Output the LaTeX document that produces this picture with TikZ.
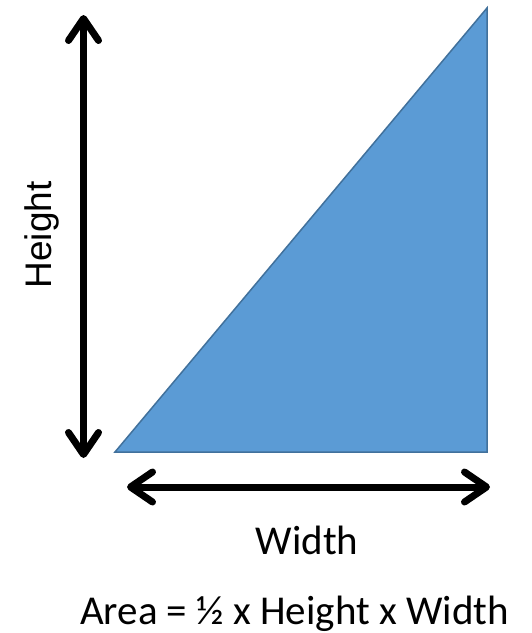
\documentclass[tikz,border=0pt]{standalone}
\usepackage{fontspec}
\setmainfont{Carlito}
\newfontfamily\arialfont{Liberation Sans}
\usetikzlibrary{arrows.meta}
\definecolor{trifill}{HTML}{5B9BD5}
\definecolor{triedge}{HTML}{41719C}
\tikzset{
  barb/.tip={Straight Barb[length=22pt,width=30pt,line cap=round,line join=round]},
  dimarrow/.style={line width=7pt, barb-barb},
  tri/.style={fill=trifill, draw=triedge, line width=1.5pt, line join=miter},
  lbl/.style={inner sep=0pt, text=black, anchor=base}
}
\begin{document}
\begin{tikzpicture}[x=1pt,y=-1pt]
\useasboundingbox (0,0) rectangle (532,633);
\coordinate (A) at (115,452);
\coordinate (B) at (487,452);
\coordinate (C) at (487,8);
\filldraw[tri] (A) -- (B) -- (C) -- cycle;
\coordinate (htop) at (83.5,15);
\coordinate (hbot) at (83.5,458);
\draw[dimarrow] (htop) -- (hbot);
\coordinate (wl) at (127,487);
\coordinate (wr) at (490,487);
\draw[dimarrow] (wl) -- (wr);
\node[lbl, rotate=90, font=\arialfont\fontsize{37}{44}\selectfont] (hlabel) at (52,235) {Height};
\node[lbl, font=\fontsize{41}{49}\selectfont] (wlabel) at (307,554) {Width};
\node[lbl, font=\fontsize{41}{49}\selectfont] (area) at (294.5,624) {Area = ½ x Height x Width};
\end{tikzpicture}
\end{document}
